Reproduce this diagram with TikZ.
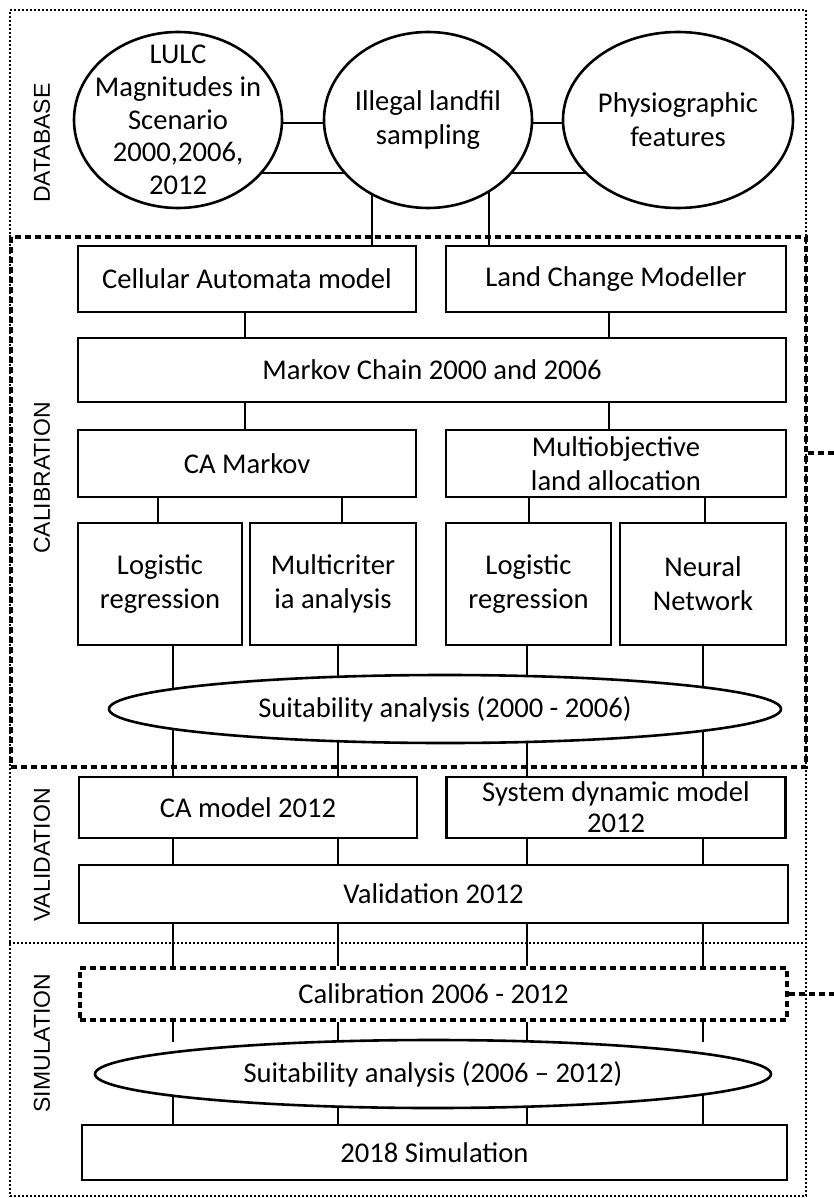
\documentclass[tikz,border=0pt]{standalone}
\usepackage{fontspec}
\setmainfont{Carlito}
\newfontfamily\labelfont{Liberation Sans}
\usetikzlibrary{shapes.geometric,backgrounds}
\begin{document}
\begin{tikzpicture}[x=0.5pt,y=-0.5pt,
  every node/.style={font=\fontsize{14.3}{17}\selectfont},
  box/.style={draw,rectangle,line width=1.4pt,fill=white,align=center,inner sep=0pt},
  oval/.style={ellipse,draw,line width=1.3pt,fill=white,align=center,inner sep=-12pt},
  conn/.style={line width=1.1pt},
  thickdash/.style={line width=2pt,dash pattern=on 3pt off 2pt},
  thindot/.style={line width=0.9pt,dash pattern=on 0.9pt off 1.1pt},
  sect/.style={rotate=90,font=\labelfont\fontsize{11.5}{13}\selectfont}]
\useasboundingbox (0,0) rectangle (834,1198);

% frame and regions
\node[draw,thindot,rectangle,inner sep=0pt,minimum width=398pt,minimum height=593pt] (frame) at (408,603) {};
\node[draw,thickdash,rectangle,inner sep=0pt,minimum width=397.5pt,minimum height=265pt] (calreg) at (408.5,502) {};
\coordinate (yV) at (0,943);
\draw[thindot] (frame.west |- yV) -- (frame.east |- yV);

% section labels
\node[sect] (lbdb) at (42,143) {DATABASE};
\node[sect] (lbcal) at (42,478) {CALIBRATION};
\node[sect] (lbval) at (42,855) {VALIDATION};
\node[sect] (lbsim) at (42,1043) {SIMULATION};

% database
\node[oval,minimum width=104pt,minimum height=88pt,font=\fontsize{14.3}{16.3}\selectfont] (lulc) at (178,120) {LULC\\Magnitudes in\\Scenario\\2000,2006,\\2012};
\node[oval,minimum width=104pt,minimum height=88pt] (ill) at (428,120) {Illegal landfil\\sampling};
\node[oval,minimum width=115pt,minimum height=88pt] (phys) at (678,120) {Physiographic\\features};

% calibration
\node[box,minimum width=169pt,minimum height=33pt] (cam) at (247,279) {Cellular Automata model};
\node[box,minimum width=170pt,minimum height=33pt] (lcm) at (616,279) {Land Change Modeller};
\node[box,minimum width=354pt,minimum height=32pt] (mc) at (432,370) {Markov Chain 2000 and 2006};
\node[box,minimum width=169pt,minimum height=33.5pt] (cama) at (247,463.5) {CA Markov};
\node[box,minimum width=170pt,minimum height=33.5pt] (mola) at (616,463.5) {Multiobjective\\land allocation};
\node[box,minimum width=82pt,minimum height=61pt] (lr1) at (160,584) {Logistic\\regression};
\node[box,minimum width=83pt,minimum height=61pt] (mca) at (333,584) {Multicriter\\ia analysis};
\node[box,minimum width=82.5pt,minimum height=61pt] (lr2) at (528.5,584) {Logistic\\regression};
\node[box,minimum width=83pt,minimum height=61pt] (nn) at (703,584) {Neural\\Network};
\node[oval,minimum width=336pt,minimum height=34pt] (sa1) at (445,709) {Suitability analysis (2000 - 2006)};

% validation
\node[box,minimum width=169pt,minimum height=30.5pt] (cam12) at (248,807.5) {CA model 2012};
\node[box,minimum width=169.5pt,minimum height=30.5pt,font=\fontsize{14.3}{15.5}\selectfont] (sdm) at (616,807.5) {System dynamic model\\2012};
\node[box,minimum width=354.5pt,minimum height=29pt] (val) at (433.5,894) {Validation 2012};

% simulation
\node[box,thickdash,minimum width=353.5pt,minimum height=26pt] (cal) at (433.5,994) {Calibration 2006 - 2012};
\node[oval,minimum width=338pt,minimum height=34pt] (sa2) at (433,1074) {Suitability analysis (2006 -- 2012)};
\node[box,minimum width=352.5pt,minimum height=27.5pt] (sim) at (434.5,1152.5) {2018 Simulation};

% helper coordinates
\coordinate (xA) at (173,0);
\coordinate (xB) at (338,0);
\coordinate (xC) at (527,0);
\coordinate (xD) at (703,0);
\coordinate (xI1) at (372,0);
\coordinate (xI2) at (489,0);
\coordinate (xM1) at (245,0);
\coordinate (xM2) at (609,0);
\coordinate (xR1) at (158,0);
\coordinate (xR2) at (342,0);
\coordinate (xR3) at (529,0);
\coordinate (xR4) at (705,0);
\coordinate (yU) at (0,123);
\coordinate (yL) at (0,173);
\coordinate (yT) at (0,1042);
\coordinate (s1) at (834,453);
\coordinate (s2) at (834,994);

\begin{scope}[on background layer]
\draw[conn] (lulc.center |- yU) -- (ill.center |- yU);
\draw[conn] (lulc.center |- yL) -- (ill.center |- yL);
\draw[conn] (ill.center |- yU) -- (phys.center |- yU);
\draw[conn] (ill.center |- yL) -- (phys.center |- yL);
\draw[conn] (ill.center -| xI1) -- (cam.north -| xI1);
\draw[conn] (ill.center -| xI2) -- (lcm.north -| xI2);
\draw[conn] (cam.south -| xM1) -- (mc.north -| xM1);
\draw[conn] (lcm.south -| xM2) -- (mc.north -| xM2);
\draw[conn] (mc.south -| xM1) -- (cama.north -| xM1);
\draw[conn] (mc.south -| xM2) -- (mola.north -| xM2);
\draw[conn] (cama.south -| xR1) -- (lr1.north -| xR1);
\draw[conn] (cama.south -| xR2) -- (mca.north -| xR2);
\draw[conn] (mola.south -| xR3) -- (lr2.north -| xR3);
\draw[conn] (mola.south -| xR4) -- (nn.north -| xR4);
\draw[conn] (lr1.south -| xA) -- (sa1.center -| xA);
\draw[conn] (mca.south -| xB) -- (sa1.center -| xB);
\draw[conn] (lr2.south -| xC) -- (sa1.center -| xC);
\draw[conn] (nn.south -| xD) -- (sa1.center -| xD);
\draw[conn] (sa1.center -| xA) -- (cam12.north -| xA);
\draw[conn] (sa1.center -| xB) -- (cam12.north -| xB);
\draw[conn] (sa1.center -| xC) -- (sdm.north -| xC);
\draw[conn] (sa1.center -| xD) -- (sdm.north -| xD);
\draw[conn] (cam12.south -| xA) -- (val.north -| xA);
\draw[conn] (cam12.south -| xB) -- (val.north -| xB);
\draw[conn] (sdm.south -| xC) -- (val.north -| xC);
\draw[conn] (sdm.south -| xD) -- (val.north -| xD);
\draw[conn] (val.south -| xA) -- (cal.north -| xA);
\draw[conn] (val.south -| xB) -- (cal.north -| xB);
\draw[conn] (val.south -| xC) -- (cal.north -| xC);
\draw[conn] (val.south -| xD) -- (cal.north -| xD);
\draw[conn] (cal.south -| xA) -- (yT -| xA);
\draw[conn] (cal.south -| xB) -- (yT -| xB);
\draw[conn] (cal.south -| xC) -- (yT -| xC);
\draw[conn] (cal.south -| xD) -- (yT -| xD);
\draw[conn] (sa2.center -| xA) -- (sim.north -| xA);
\draw[conn] (sa2.center -| xB) -- (sim.north -| xB);
\draw[conn] (sa2.center -| xC) -- (sim.north -| xC);
\draw[conn] (sa2.center -| xD) -- (sim.north -| xD);
\end{scope}

% dashed links to the right
\draw[thickdash] (s1 -| calreg.east) -- (s1);
\draw[thickdash] (cal.east) -- (cal.east -| s2);
\end{tikzpicture}
\end{document}
